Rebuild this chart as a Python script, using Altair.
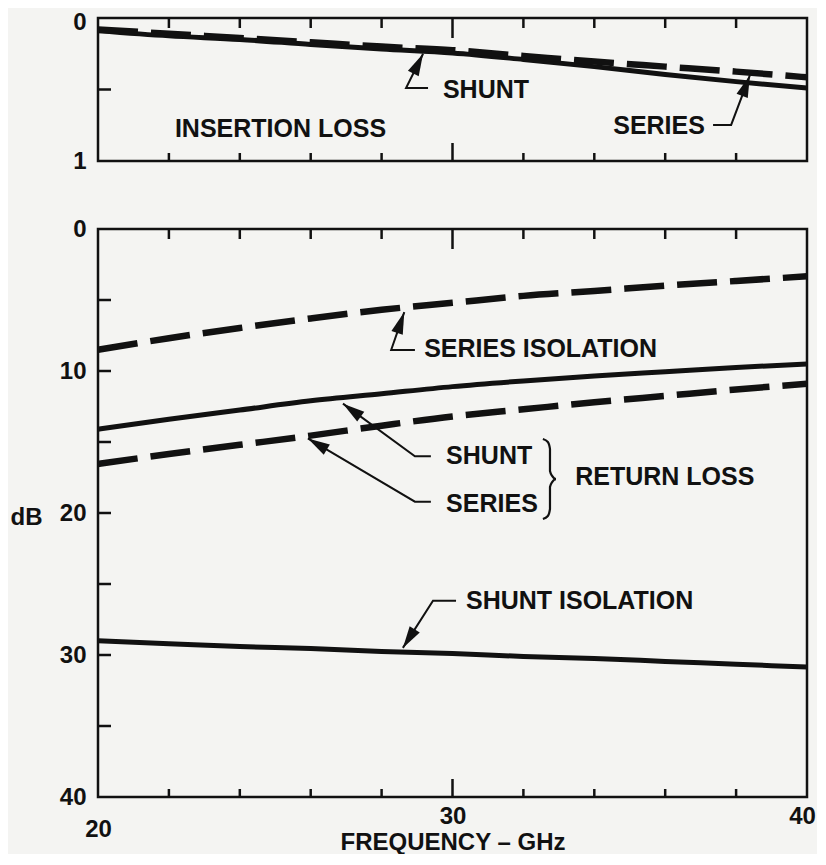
import math
import altair as alt
import pandas as pd

# ---------------- data ----------------
freq = [20, 22, 24, 26, 28, 30, 32, 34, 36, 38, 40]

# insertion loss (dB)
il_shunt = [0.09, 0.125, 0.15, 0.185, 0.217, 0.245, 0.29, 0.34, 0.395, 0.445, 0.49]
il_series = [0.08, 0.11, 0.14, 0.17, 0.20, 0.225, 0.265, 0.305, 0.34, 0.375, 0.415]

# isolation / return loss (dB)
series_iso = [8.5, 7.69, 6.97, 6.3, 5.69, 5.2, 4.71, 4.36, 3.99, 3.66, 3.33]
shunt_rl = [14.1, 13.4, 12.75, 12.1, 11.6, 11.1, 10.7, 10.35, 10.05, 9.75, 9.5]
series_rl = [16.55, 15.85, 15.2, 14.55, 13.85, 13.2, 12.7, 12.2, 11.75, 11.3, 10.9]
shunt_iso = [29.0, 29.2, 29.4, 29.55, 29.75, 29.9, 30.1, 30.25, 30.45, 30.65, 30.85]

minor_ticks = [22, 24, 26, 28, 32, 34, 36, 38]
major_ticks = [30]
top_yticks = [0.5]
bot_yticks = [5, 10, 15, 20, 25, 30, 35]

# annotation labels (x in GHz, y in dB)
top_labels = ["SHUNT", "INSERTION LOSS"]
top_label_x = [29.73, 22.17]
top_label_y = [0.50, 0.773]
top_rlabels = ["SERIES"]
top_rlabel_x = [37.12]
top_rlabel_y = [0.755]

bot_labels = ["SERIES ISOLATION", "SHUNT", "SERIES", "RETURN LOSS", "SHUNT ISOLATION"]
bot_label_x = [29.2, 29.82, 29.82, 33.46, 30.38]
bot_label_y = [8.45, 16.0, 19.37, 17.46, 26.2]

# leader lines: list of point paths (last point = arrow tip)
top_leaders = [
    [(29.31, 0.49), (28.69, 0.49), (29.17, 0.25)],
    [(37.35, 0.748), (37.86, 0.748), (38.39, 0.40)],
]
bot_leaders = [
    [(28.94, 8.52), (28.27, 8.52), (28.64, 5.85)],
    [(29.39, 16.0), (28.94, 16.0), (26.91, 12.3)],
    [(29.39, 19.2), (28.94, 19.2), (25.92, 14.75)],
    [(30.1, 26.18), (29.45, 26.18), (28.6, 29.5)],
]
brace_x = [32.55, 32.69, 32.75, 32.75, 32.81, 32.92, 32.81, 32.75, 32.75, 32.69, 32.55]
brace_y = [14.79, 15.0, 15.49, 17.04, 17.39, 17.61, 17.82, 18.17, 19.72, 20.21, 20.42]

# ---------------- layout / style ----------------
W = 709
H_TOP = 143
H_BOT = 568
FONT = "Liberation Sans"
FS = 25
TFS = 24
INK = "#111111"
ARROW = "M0,0L0.6,2.2L-0.6,2.2Z"

xscale = alt.Scale(domain=[20, 40], nice=False, zero=False)


def leader_frames(leaders, ymax, height):
    pts, heads = [], []
    for k, path in enumerate(leaders):
        for i, (x, y) in enumerate(path):
            pts.append({"id": k, "i": i, "x": x, "y": y})
        (tx, ty), (hx, hy) = path[-2], path[-1]
        dx = (hx - tx) * W / 20.0
        dy = (hy - ty) * height / ymax
        ang = math.degrees(math.atan2(dx, -dy)) % 360
        heads.append({"x": hx, "y": hy, "ang": ang})
    return pd.DataFrame(pts), pd.DataFrame(heads)


def panel(yscale, yaxis, curves, ticks_y, height, leaders, ymax, labels, rlabels, xaxis, extra=None):
    base_x = alt.X("f:Q", scale=xscale, axis=xaxis, title="FREQUENCY – GHz" if xaxis is not None else None)
    layers = []
    for vals, dashed in curves:
        df = pd.DataFrame({"f": freq, "v": vals})
        if dashed:
            m = alt.Chart(df).mark_line(color=INK, strokeWidth=6.5, strokeDash=[40, 13], strokeCap="butt",
                                        interpolate="monotone")
        else:
            m = alt.Chart(df).mark_line(color=INK, strokeWidth=5, interpolate="monotone")
        layers.append(m.encode(x=base_x, y=alt.Y("v:Q", scale=yscale, axis=yaxis)))

    # inward ticks
    tmin = pd.DataFrame({"f": minor_ticks})
    tmaj = pd.DataFrame({"f": major_ticks})
    sx = alt.X("f:Q", scale=xscale)
    for df, ln in ((tmin, 10), (tmaj, 20)):
        layers.append(alt.Chart(df).mark_rule(color=INK, strokeWidth=2.5).encode(
            x=sx, y=alt.value(0), y2=alt.value(ln)))
        layers.append(alt.Chart(df).mark_rule(color=INK, strokeWidth=2.5).encode(
            x=sx, y=alt.value(height), y2=alt.value(height - ln + 2)))
    layers.append(alt.Chart(pd.DataFrame({"v": ticks_y})).mark_rule(color=INK, strokeWidth=2.5).encode(
        y=alt.Y("v:Q", scale=yscale), x=alt.value(0), x2=alt.value(13)))

    # leaders + arrowheads
    lp, lh = leader_frames(leaders, ymax, height)
    layers.append(alt.Chart(lp).mark_line(color=INK, strokeWidth=2).encode(
        x=alt.X("x:Q", scale=xscale), y=alt.Y("y:Q", scale=yscale),
        detail="id:N", order="i:Q"))
    layers.append(alt.Chart(lh).mark_point(shape=ARROW, filled=True, color=INK, opacity=1, size=400).encode(
        x=alt.X("x:Q", scale=xscale), y=alt.Y("y:Q", scale=yscale),
        angle=alt.Angle("ang:Q", scale=None)))

    if extra is not None:
        layers.append(extra)

    txt = dict(font=FONT, fontSize=FS, fontWeight="bold", color=INK, baseline="middle")
    t, tx, ty = labels
    layers.append(alt.Chart(pd.DataFrame({"t": t, "x": tx, "y": ty})).mark_text(align="left", **txt).encode(
        x=alt.X("x:Q", scale=xscale), y=alt.Y("y:Q", scale=yscale), text="t:N"))
    if rlabels is not None:
        t, tx, ty = rlabels
        layers.append(alt.Chart(pd.DataFrame({"t": t, "x": tx, "y": ty})).mark_text(align="right", **txt).encode(
            x=alt.X("x:Q", scale=xscale), y=alt.Y("y:Q", scale=yscale), text="t:N"))

    return alt.layer(*layers).properties(width=W, height=height)


lab = dict(labelFont=FONT, labelFontSize=TFS, labelFontWeight="bold", labelColor=INK,
           ticks=False, domain=False, grid=False, labelFlush=False)

top_yaxis = alt.Axis(values=[0, 1], labelPadding=12, title=None, format="d",
                     labelOffset={"condition": {"test": "datum.value == 0", "value": 4}, "value": 0},
                     **lab)
bot_yaxis = alt.Axis(values=[0, 10, 20, 30, 40], labelPadding=12, title="dB", format="d",
                     titleAngle=0, titleAlign="left", titleBaseline="middle",
                     titleX=-88, titleY=288, titleFont=FONT, titleFontSize=TFS,
                     titleFontWeight="bold", titleColor=INK, **lab)
bot_xaxis = alt.Axis(values=[20, 30, 40], format="d",
                     labelPadding={"condition": {"test": "datum.value == 20", "value": 20}, "value": 7},
                     labelOffset={"condition": {"test": "datum.value == 40", "value": -5}, "value": 0},
                     titleY=45, titleBaseline="middle",
                     titleFont=FONT, titleFontSize=TFS, titleFontWeight="bold", titleColor=INK,
                     **lab)

top_y = alt.Scale(domain=[0, 1], reverse=True, nice=False, zero=False)
bot_y = alt.Scale(domain=[0, 40], reverse=True, nice=False, zero=False)

brace = alt.Chart(pd.DataFrame({"x": brace_x, "y": brace_y, "i": list(range(len(brace_x)))})).mark_line(
    color=INK, strokeWidth=2.2, interpolate="monotone").encode(
    x=alt.X("x:Q", scale=xscale), y=alt.Y("y:Q", scale=bot_y), order="i:Q")

top = panel(top_y, top_yaxis, [(il_shunt, False), (il_series, True)], top_yticks, H_TOP,
            top_leaders, 1.0, (top_labels, top_label_x, top_label_y),
            (top_rlabels, top_rlabel_x, top_rlabel_y), None)
bottom = panel(bot_y, bot_yaxis,
               [(series_iso, True), (shunt_rl, False), (series_rl, True), (shunt_iso, False)],
               bot_yticks, H_BOT, bot_leaders, 40.0, (bot_labels, bot_label_x, bot_label_y),
               None, bot_xaxis, extra=brace)

chart = alt.vconcat(top, bottom, spacing=40).properties(
    background="#f4f4f2",
    padding={"left": 0, "top": 0, "right": -5, "bottom": -2},
).configure_view(stroke=INK, strokeWidth=2.5)

chart.save("out.html", embed_options={"renderer": "svg", "actions": False})
